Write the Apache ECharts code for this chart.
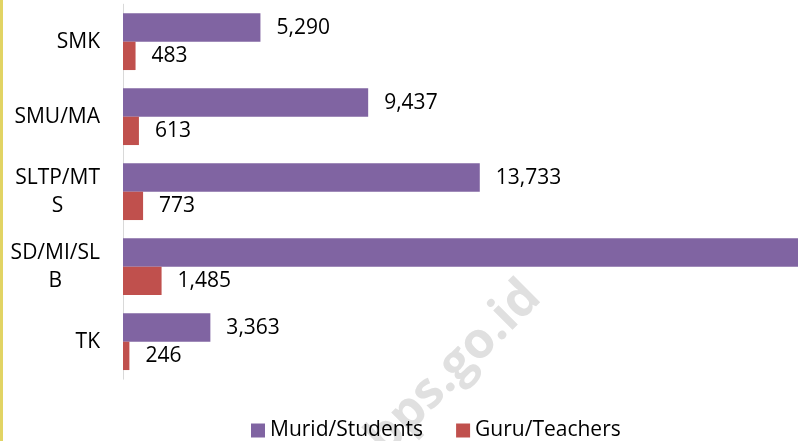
<!DOCTYPE html>
<html>
<head>
<meta charset="utf-8">
<script src="https://cdn.jsdelivr.net/npm/echarts@6/dist/echarts.min.js"></script>
<style>
html,body{margin:0;padding:0;background:#fff;}
#chart{width:798px;height:441px;}
</style>
</head>
<body>
<div id="chart"></div>
<script>
var categories = ['TK', 'SD/MI/SLB', 'SLTP/MTS', 'SMU/MA', 'SMK'];
var categoryLabels = ['TK', 'SD/MI/SL\nB', 'SLTP/MT\nS', 'SMU/MA', 'SMK'];
var students = [3363, 28974, 13733, 9437, 5290];
var teachers = [246, 1485, 773, 613, 483];
var seriesNames = ['Murid/Students', 'Guru/Teachers'];
var watermarkText = 'bps.go.id';

var FONT = '"Open Sans", sans-serif';
var chart = echarts.init(document.getElementById('chart'), null, {renderer: 'canvas'});

function fmt(v) { return v.toLocaleString('en-US'); }

var option = {
  animation: false,
  backgroundColor: '#ffffff',
  textStyle: {fontFamily: FONT},
  graphic: [
    {type: 'rect', left: 0, top: 0, shape: {width: 3, height: 441}, style: {fill: '#E2D464'}, z: 10},
    {type: 'text', x: 454, y: 368, rotation: Math.PI / 4, z: -10,
     style: {text: watermarkText, font: 'bold 50px ' + FONT, fill: '#E0E0E0', align: 'center', verticalAlign: 'middle'}}
  ],
  legend: {
    left: 246,
    top: 415,
    itemWidth: 14,
    itemHeight: 14,
    itemGap: 33,
    icon: 'rect',
    textStyle: {fontSize: 21, color: '#000', fontFamily: FONT},
    data: seriesNames
  },
  grid: {left: 123, top: 4.2, height: 375, right: -104.4, containLabel: false, outerBoundsMode: 'none'},
  xAxis: {
    type: 'value', min: 0, max: 30000,
    axisLine: {show: false}, axisTick: {show: false}, axisLabel: {show: false}, splitLine: {show: false}
  },
  yAxis: {
    type: 'category',
    data: categories,
    axisLine: {show: true, lineStyle: {color: '#D9D9D9', width: 1}},
    axisTick: {show: false},
    axisLabel: {
      margin: 23,
      color: '#000',
      fontSize: 21,
      fontFamily: FONT,
      formatter: function (v, i) {
        var lines = categoryLabels[i].split('\n');
        return lines.map(function (l) { return '{c|' + l + '}'; }).join('\n');
      },
      rich: {c: {align: 'center', fontSize: 21, lineHeight: 28, color: '#000', fontFamily: FONT}}
    }
  },
  series: [
    {
      name: seriesNames[0], type: 'bar', data: students,
      barGap: 0, barCategoryGap: '24.4%',
      itemStyle: {color: '#8064A2'},
      label: {show: true, position: 'right', distance: 16, color: '#000', fontSize: 21, fontFamily: FONT,
              formatter: function (p) { return fmt(p.value); }}
    },
    {
      name: seriesNames[1], type: 'bar', data: teachers,
      barGap: 0, barCategoryGap: '24.4%',
      itemStyle: {color: '#C0504D'},
      label: {show: true, position: 'right', distance: 16, color: '#000', fontSize: 21, fontFamily: FONT,
              formatter: function (p) { return fmt(p.value); }}
    }
  ]
};
chart.setOption(option);
</script>
</body>
</html>
